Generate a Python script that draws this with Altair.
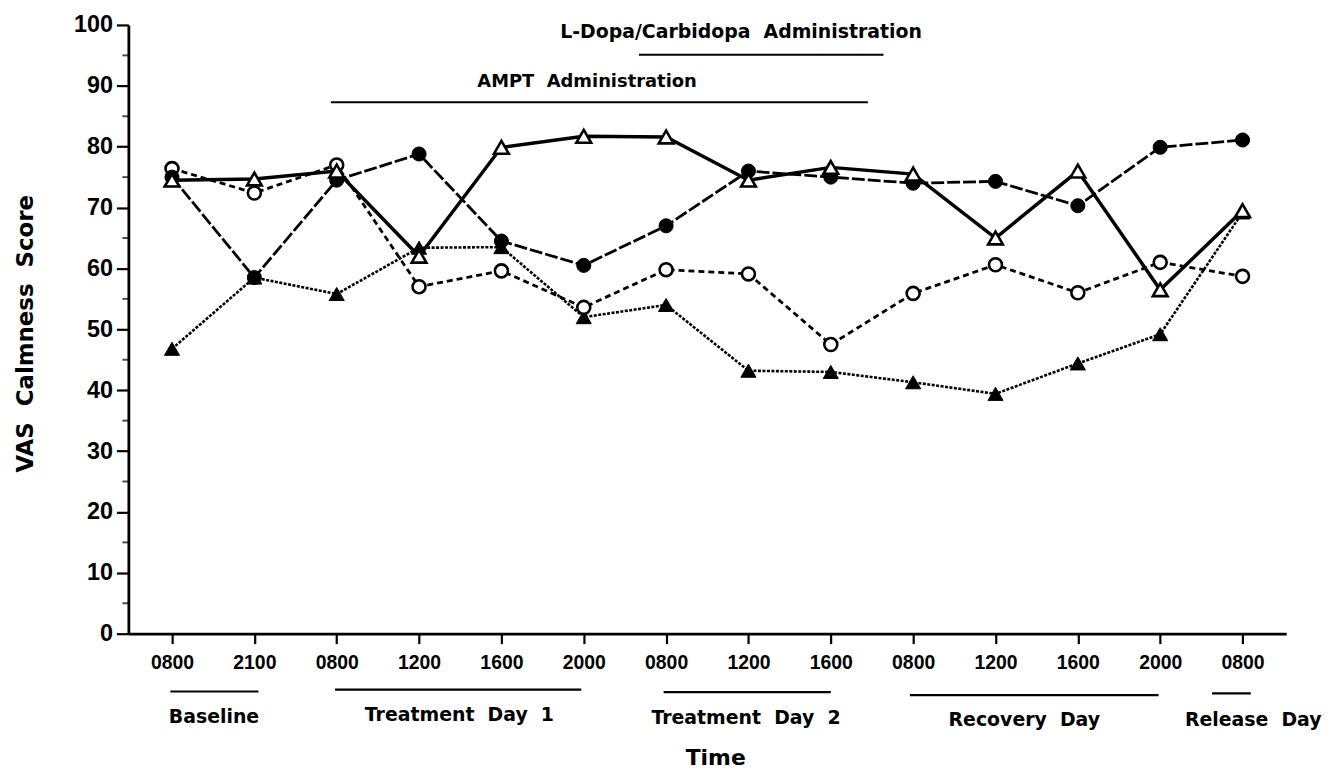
import altair as alt
import pandas as pd

# ---- data ----
times = ["0800", "2100", "0800", "1200", "1600", "2000", "0800",
         "1200", "1600", "0800", "1200", "1600", "2000", "0800"]
idx = list(range(len(times)))

open_circle = [76.4, 72.4, 77.0, 57.0, 59.6, 53.6, 59.8, 59.1, 47.5, 55.9, 60.6, 56.0, 61.0, 58.7]
filled_circle = [75.0, 58.5, 74.5, 78.8, 64.5, 60.5, 67.0, 76.0, 75.0, 74.0, 74.3, 70.3, 79.9, 81.1]
open_triangle = [74.5, 74.7, 76.0, 62.0, 79.9, 81.7, 81.6, 74.5, 76.6, 75.5, 65.0, 76.0, 56.5, 69.5]
filled_triangle = [46.8, 58.5, 55.8, 63.4, 63.5, 52.0, 54.0, 43.2, 43.0, 41.3, 39.4, 44.4, 49.2, 69.2]

y_ticks = list(range(0, 101, 10))
y_minor = list(range(5, 100, 10))

# day groups under the axis
group_names = ["Baseline", "Treatment\u00a0\u00a0Day\u00a0\u00a01", "Treatment\u00a0\u00a0Day\u00a0\u00a02",
               "Recovery\u00a0\u00a0Day", "Release\u00a0\u00a0Day"]
group_start = [-0.02, 1.98, 5.97, 8.96, 12.63]
group_end = [1.05, 4.97, 8.0, 11.98, 13.1]
group_line_y = [-9.5, -9.2, -9.6, -10.1, -9.8]
group_text_x = [0.51, 3.49, 6.97, 10.35, 13.13]
group_text_y = [-13.7, -13.4, -13.9, -14.2, -14.2]

# drug administration bars above the data
admin_names = ["L-Dopa/Carbidopa\u00a0\u00a0Administration", "AMPT\u00a0\u00a0Administration"]
admin_start = [5.67, 1.93]
admin_end = [8.64, 8.45]
admin_line_y = [95.1, 87.3]
admin_text_x = [6.91, 5.04]
admin_text_y = [98.8, 90.6]
admin_font = [19, 18]

# ---- tables ----
series_defs = [
    ("filled_triangle", filled_triangle),
    ("open_circle", open_circle),
    ("filled_circle", filled_circle),
    ("open_triangle", open_triangle),
]
rows = []
for name, vals in series_defs:
    for i, v in zip(idx, vals):
        rows.append({"i": i, "v": v, "series": name})
df = pd.DataFrame(rows)

groups = pd.DataFrame({"name": group_names, "x0": group_start, "x1": group_end,
                       "ly": group_line_y, "tx": group_text_x, "ty": group_text_y})
admins = pd.DataFrame({"name": admin_names, "x0": admin_start, "x1": admin_end,
                       "ly": admin_line_y, "tx": admin_text_x, "ty": admin_text_y,
                       "fs": admin_font})

X_MIN, X_MAX = -0.53, 13.53
minor_df = pd.DataFrame({"v": y_minor, "x": [X_MIN] * len(y_minor)})

x_scale = alt.Scale(domain=[X_MIN, X_MAX], nice=False, zero=False)
y_scale = alt.Scale(domain=[0, 100], nice=False, zero=False)

label_js = "[" + ",".join("'%s'" % t for t in times) + "]"
NUM_FONT = "Liberation Sans"
TXT_FONT = "DejaVu Sans"

x_axis = alt.Axis(
    values=idx, labelExpr=label_js + "[datum.value]", grid=False,
    tickSize=10, tickWidth=2.2, tickColor="black",
    domainWidth=2.8, domainColor="black",
    labelFont=NUM_FONT, labelFontWeight="bold", labelFontSize=19.5, labelColor="black",
    labelPadding=10, labelFlush=False, labelOverlap=False,
    title="Time", titleFont=TXT_FONT, titleFontSize=22, titleFontWeight="bold",
    titleColor="black", titleX=590, titleY=132, titleBaseline="alphabetic",
)
y_axis = alt.Axis(
    values=y_ticks, grid=False,
    tickSize=12, tickWidth=2.2, tickColor="black",
    domainWidth=2.8, domainColor="black",
    labelFont=NUM_FONT, labelFontWeight="bold", labelFontSize=23.5, labelColor="black",
    labelPadding=4, labelFlush=False,
    title="VAS\u00a0\u00a0Calmness\u00a0\u00a0Score", titleFont=TXT_FONT, titleFontSize=23,
    titleFontWeight="bold", titleColor="black", titleX=-96, titleY=310,
    titleBaseline="alphabetic", titleAngle=270,
)

X = alt.X("i:Q", scale=x_scale, axis=x_axis)
Y = alt.Y("v:Q", scale=y_scale, axis=y_axis)

line_styles = {
    "filled_triangle": dict(strokeDash=[3, 1.5], strokeWidth=2.6),
    "open_circle": dict(strokeDash=[6, 4], strokeWidth=2.8),
    "filled_circle": dict(strokeDash=[13, 3], strokeWidth=2.8),
    "open_triangle": dict(strokeWidth=3.5),
}
point_styles = {
    "filled_triangle": dict(shape="triangle-up", filled=True, fill="black", stroke="black", strokeWidth=1, size=230, opacity=1),
    "open_circle": dict(shape="circle", filled=True, fill="white", stroke="black", strokeWidth=2.6, size=170, opacity=1),
    "filled_circle": dict(shape="circle", filled=True, fill="black", stroke="black", strokeWidth=1, size=200, opacity=1),
    "open_triangle": dict(shape="triangle-up", filled=True, fill="white", stroke="black", strokeWidth=2.6, size=220, opacity=1),
}

base = alt.Chart(df)
layers = []
for name, _ in series_defs:
    layers.append(
        base.transform_filter(alt.datum.series == name)
        .mark_line(color="black", **line_styles[name])
        .encode(x=X, y=Y)
    )
for name, _ in series_defs:
    layers.append(
        base.transform_filter(alt.datum.series == name)
        .mark_point(**point_styles[name])
        .encode(x=X, y=Y)
    )

minor_ticks = alt.Chart(minor_df).mark_tick(
    orient="horizontal", size=6, thickness=2, color="black", xOffset=-3
).encode(x=alt.X("x:Q", scale=x_scale), y=alt.Y("v:Q", scale=y_scale))

group_lines = alt.Chart(groups).mark_rule(color="black", strokeWidth=2.2).encode(
    x=alt.X("x0:Q", scale=x_scale), x2="x1:Q", y=alt.Y("ly:Q", scale=y_scale))
group_text = alt.Chart(groups).mark_text(
    font=TXT_FONT, fontWeight="bold", fontSize=19, color="black", align="center", baseline="middle"
).encode(x=alt.X("tx:Q", scale=x_scale), y=alt.Y("ty:Q", scale=y_scale), text="name:N")

admin_lines = alt.Chart(admins).mark_rule(color="black", strokeWidth=2.2).encode(
    x=alt.X("x0:Q", scale=x_scale), x2="x1:Q", y=alt.Y("ly:Q", scale=y_scale))
admin_text = alt.Chart(admins).mark_text(
    font=TXT_FONT, fontWeight="bold", color="black", align="center", baseline="middle"
).encode(x=alt.X("tx:Q", scale=x_scale), y=alt.Y("ty:Q", scale=y_scale), text="name:N",
         size=alt.Size("fs:Q", scale=None, legend=None))

chart = alt.layer(
    *layers, minor_ticks, group_lines, group_text, admin_lines, admin_text
).properties(
    width=1164, height=612,
    autosize=alt.AutoSizeParams(type="none"),
    padding={"left": 121, "top": 15, "right": 36, "bottom": 134},
    background="white",
).configure_view(stroke=None)

chart.save("out.html", embed_options={"renderer": "svg", "actions": False})
